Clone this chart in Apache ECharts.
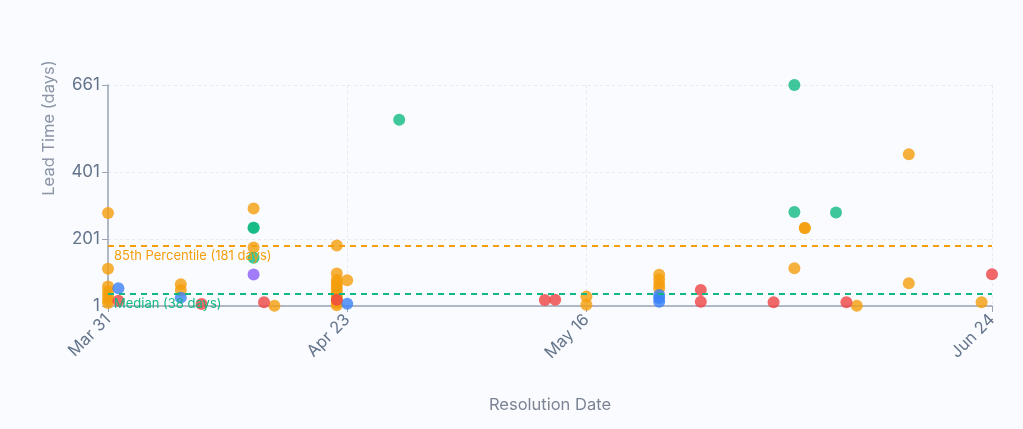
<!DOCTYPE html>
<html>
<head>
<meta charset="utf-8">
<script src="https://cdn.jsdelivr.net/npm/echarts@6/dist/echarts.min.js"></script>
<style>
html,body{margin:0;padding:0;background:#fafbfe;}
#c{width:1023px;height:429px;}
</style>
</head>
<body>
<div id="c"></div>
<script>
// ---- data (dates as "MM-DD", year 2025) ----
const xTickLabels = ['03-31', '04-23', '05-16', '06-24'];
const yTickValues = [1, 201, 401, 661];
const medianDays = 38;
const p85Days = 181;

const orangeDates = ['03-31','03-31','03-31','03-31','03-31','03-31','03-31',
  '04-07','04-07','04-14','04-14','04-16',
  '04-22','04-22','04-22','04-22','04-22','04-22','04-22','04-22','04-22','04-22','04-22',
  '04-23','05-16','05-16','05-23','05-23','05-23','05-23',
  '06-05','06-06','06-06','06-11','06-16','06-16','06-23'];
const orangeValues = [279,112,59,45,32,20,10,
  66,49,292,176,2,
  182,98,79,70,60,50,40,30,20,10,3,
  78,29,5,94,80,66,54,
  114,234,234,2,454,69,12];

const greenDates = ['04-14','04-14','04-14','04-28','06-05','06-05','06-09'];
const greenValues = [235,235,145,557,661,282,280];

const blueDates = ['04-01','04-07','04-23','05-23','05-23','05-23'];
const blueValues = [54,26,8,34,24,14];

const redDates = ['04-01','04-09','04-15','04-22','05-12','05-13','05-27','05-27','06-03','06-10','06-24'];
const redValues = [17,7,12,20,19,20,49,14,12,12,96];

const purpleDates = ['04-14'];
const purpleValues = [95];

const monthNames = ['Jan','Feb','Mar','Apr','May','Jun','Jul','Aug','Sep','Oct','Nov','Dec'];
function ts(md) {
  const [m, d] = md.split('-').map(Number);
  return Date.UTC(2025, m - 1, d);
}
function pairs(dates, vals) { return dates.map((d, i) => [ts(d), vals[i]]); }

const chart = echarts.init(document.getElementById('c'), null, {renderer: 'canvas'});
const xMin = ts(xTickLabels[0]);
const xMax = ts(xTickLabels[xTickLabels.length - 1]);
const xTicks = xTickLabels.map(ts);

function scatter(name, color, data, extra) {
  return Object.assign({
    name: name,
    type: 'scatter',
    symbolSize: 12,
    data: data,
    itemStyle: {color: color, opacity: 0.8},
    emphasis: {disabled: true}
  }, extra || {});
}

chart.setOption({
  backgroundColor: '#fafbfe',
  animation: false,
  grid: {left: 108, right: 31, top: 85, bottom: 123, containLabel: false},
  xAxis: {
    type: 'value',
    min: xMin,
    max: xMax,
    name: 'Resolution Date',
    nameLocation: 'middle',
    nameGap: 91,
    nameTextStyle: {color: '#7b8494', fontSize: 16.5, fontFamily: 'Inter, sans-serif'},
    axisLine: {show: true, lineStyle: {color: '#9aa3b5', width: 1.5}},
    axisTick: {show: true, length: 6, lineStyle: {color: '#9aa3b5'}, customValues: xTicks},
    axisLabel: {
      customValues: xTicks,
      rotate: 45,
      margin: 11,
      color: '#64748b',
      fontSize: 16.5,
      fontFamily: 'Inter, sans-serif',
      formatter: function (v) {
        const d = new Date(v);
        return monthNames[d.getUTCMonth()] + ' ' + d.getUTCDate();
      }
    },
    splitLine: {show: true, lineStyle: {color: '#e6e9f0', type: [3, 3], width: 1}}
  },
  yAxis: {
    type: 'value',
    min: yTickValues[0],
    max: yTickValues[yTickValues.length - 1],
    axisLine: {show: true, lineStyle: {color: '#9aa3b5', width: 1.5}},
    axisTick: {show: true, length: 6, lineStyle: {color: '#9aa3b5'}, customValues: yTickValues},
    axisLabel: {customValues: yTickValues, color: '#64748b', fontSize: 17, margin: 8, fontFamily: 'Inter, sans-serif'},
    splitLine: {show: true, lineStyle: {color: '#e6e9f0', type: [3, 3], width: 1}}
  },
  graphic: [{
    type: 'text',
    x: 49,
    y: 128,
    rotation: Math.PI / 2,
    style: {
      text: 'Lead Time (days)',
      fill: '#8b95a7',
      fontSize: 16.5,
      fontFamily: 'Inter, sans-serif',
      align: 'center',
      verticalAlign: 'middle'
    }
  }],
  series: [
    scatter('Other', '#f59e0b', pairs(orangeDates, orangeValues), {
      markLine: {
        silent: true,
        symbol: 'none',
        animation: false,
        data: [
          {yAxis: p85Days, lineStyle: {color: '#f59e0b', type: [6, 5], width: 2},
           label: {show: true, position: 'insideStartBottom', distance: [6, 4], formatter: '85th Percentile (' + p85Days + ' days)', color: '#f59e0b', fontSize: 13, fontFamily: 'Inter, sans-serif'}},
          {yAxis: medianDays, lineStyle: {color: '#10b981', type: [6, 5], width: 2},
           label: {show: true, position: 'insideStartBottom', distance: [6, 4], formatter: 'Median (' + medianDays + ' days)', color: '#10b981', fontSize: 13, fontFamily: 'Inter, sans-serif'}}
        ]
      }
    }),
    scatter('Story', '#10b981', pairs(greenDates, greenValues)),
    scatter('Task', '#3b82f6', pairs(blueDates, blueValues)),
    scatter('Bug', '#ef4444', pairs(redDates, redValues)),
    scatter('Epic', '#8b5cf6', pairs(purpleDates, purpleValues))
  ]
});
</script>
</body>
</html>
